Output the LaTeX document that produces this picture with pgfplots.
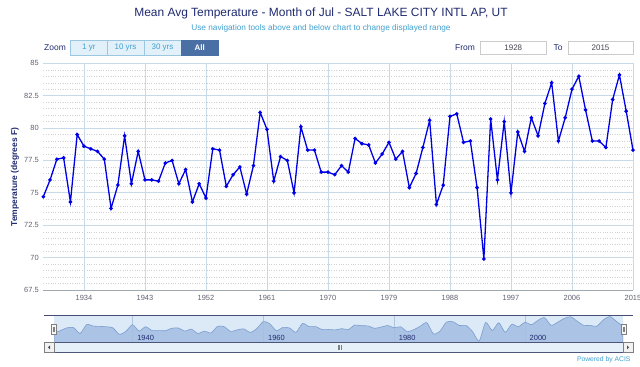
\documentclass[border=0pt]{standalone}
\usepackage{pgfplots}
\pgfplotsset{compat=1.18}
\usepackage{pgfplotstable}
\usepackage{fontspec}
\setmainfont{Liberation Sans}

\definecolor{titlec}{HTML}{1F2A70}
\definecolor{subc}{HTML}{3FA0D0}
\definecolor{gridc}{HTML}{C8DAE8}
\definecolor{minorc}{HTML}{D2D2D2}
\definecolor{axisc}{HTML}{A0A8B0}
\definecolor{tickc}{HTML}{606070}
\definecolor{linec}{HTML}{0000E6}
\definecolor{navbg}{HTML}{DCE9F7}
\definecolor{navfill}{HTML}{A6BFE2}
\definecolor{navline}{HTML}{7B9FD0}
\definecolor{navgrid}{HTML}{B0C4E0}
\definecolor{btnfill}{HTML}{E2F0F9}
\definecolor{btnline}{HTML}{9CC7E0}
\definecolor{btnsel}{HTML}{4A6FA5}
\definecolor{boxline}{HTML}{CCCCCC}

\pgfplotstableread{
year t
1928 74.7
1929 76.0
1930 77.6
1931 77.7
1932 74.3
1933 79.5
1934 78.6
1935 78.4
1936 78.2
1937 77.6
1938 73.8
1939 75.6
1940 79.4
1941 75.7
1942 78.2
1943 76.0
1944 76.0
1945 75.9
1946 77.3
1947 77.5
1948 75.7
1949 76.8
1950 74.3
1951 75.7
1952 74.6
1953 78.4
1954 78.3
1955 75.5
1956 76.4
1957 77.0
1958 74.9
1959 77.1
1960 81.2
1961 79.9
1962 75.9
1963 77.8
1964 77.5
1965 75.0
1966 80.1
1967 78.3
1968 78.3
1969 76.6
1970 76.6
1971 76.4
1972 77.1
1973 76.6
1974 79.2
1975 78.8
1976 78.7
1977 77.3
1978 78.0
1979 78.9
1980 77.6
1981 78.2
1982 75.4
1983 76.5
1984 78.5
1985 80.6
1986 74.1
1987 75.6
1988 80.9
1989 81.1
1990 78.9
1991 79.0
1992 75.4
1993 69.9
1994 80.7
1995 76.0
1996 80.5
1997 75.0
1998 79.7
1999 78.2
2000 80.8
2001 79.4
2002 81.9
2003 83.5
2004 79.0
2005 80.8
2006 83.0
2007 84.0
2008 81.4
2009 79.0
2010 79.0
2011 78.5
2012 82.2
2013 84.1
2014 81.3
2015 78.3
}\data

\begin{document}
\begin{tikzpicture}[x=1bp,y=1bp]
\useasboundingbox (0,0) rectangle (640,366);

% titles
\node[text=titlec, font=\fontsize{12}{14}\selectfont] at (321,353) {Mean Avg Temperature - Month of Jul - SALT LAKE CITY INTL AP, UT};
\node[text=subc, font=\fontsize{8.3}{10}\selectfont] at (321,337.5) {Use navigation tools above and below chart to change displayed range};

% range selector
\node[text=titlec, font=\fontsize{8.5}{10}\selectfont] at (55,318.5) {Zoom};
\draw[btnline, fill=btnfill, line width=0.6bp] (70.7,310.3) rectangle (107,326);
\draw[btnline, fill=btnfill, line width=0.6bp] (107,310.3) rectangle (144,326);
\draw[btnline, fill=btnfill, line width=0.6bp] (144,310.3) rectangle (181,326);
\fill[btnsel] (181,310.3) rectangle (218.7,326);
\node[text=subc, font=\fontsize{8}{10}\selectfont] at (88.8,318.2) {1 yr};
\node[text=subc, font=\fontsize{8}{10}\selectfont] at (125.5,318.2) {10 yrs};
\node[text=subc, font=\fontsize{8}{10}\selectfont] at (162.5,318.2) {30 yrs};
\node[text=white, font=\bfseries\fontsize{8}{10}\selectfont] at (199.8,318.2) {All};

\node[text=titlec, font=\fontsize{8.5}{10}\selectfont] at (465,318.5) {From};
\draw[boxline, line width=0.6bp] (480.7,312) rectangle (546,325);
\node[text=tickc!70!black, font=\fontsize{8}{10}\selectfont] at (513.3,318.5) {1928};
\node[text=titlec, font=\fontsize{8.5}{10}\selectfont] at (558,318.5) {To};
\draw[boxline, line width=0.6bp] (568,312) rectangle (633,325);
\node[text=tickc!70!black, font=\fontsize{8}{10}\selectfont] at (600.5,318.5) {2015};

% y label
\node[text=titlec, rotate=90, font=\bfseries\fontsize{8.5}{10}\selectfont] at (15,189) {Temperature (degrees F)};

% main axis
\begin{axis}[
  at={(43.3bp,76bp)}, anchor=south west,
  scale only axis, width=589.7bp, height=226.7bp,
  xmin=1928, xmax=2015, ymin=67.5, ymax=85,
  xtick={1934,1943,1952,1961,1970,1979,1988,1997,2006,2015},
  ytick={67.5,70,72.5,75,77.5,80,82.5,85},
  yticklabels={67.5,70,72.5,75,77.5,80,82.5,85},
  xticklabels={1934,1943,1952,1961,1970,1979,1988,1997,2006,2015},
  minor y tick num=4,
  xmajorgrids, ymajorgrids, yminorgrids,
  major grid style={color=gridc, line width=0.7bp},
  minor grid style={color=minorc, line width=0.35bp, dash pattern=on 0.6bp off 1.8bp},
  axis x line*=bottom, axis y line*=left,
  x axis line style={-, color=axisc, line width=0.7bp},
  y axis line style={draw=none},
  major tick length=0pt, minor tick length=0pt,
  tick style={draw=none},
  xticklabel style={font=\fontsize{7.5}{9}\selectfont, text=tickc, yshift=-2bp},
  yticklabel style={font=\fontsize{7.5}{9}\selectfont, text=tickc, xshift=-1bp},
  clip=false,
]
\addplot[color=linec, line width=1.3bp, mark=*, mark size=1.1bp, mark options={fill=linec}] table[x=year,y=t]{\data};
\end{axis}

% navigator
\draw[color=titlec!60!gray, line width=0.8bp] (44,50.3) -- (633,50.3);
\begin{axis}[
  at={(54bp,23.7bp)}, anchor=south west,
  scale only axis, width=569bp, height=26.6bp,
  xmin=1928, xmax=2015, ymin=69.2, ymax=84.6,
  axis background/.style={fill=navbg},
  axis line style={draw=none},
  xtick={1940,1960,1980,2000}, xticklabels={},
  ytick=\empty,
  xmajorgrids,
  major grid style={color=navgrid, line width=0.6bp},
  tick style={draw=none},
]
\addplot[smooth, tension=0.4, draw=navline, fill=navfill, fill opacity=0.9, line width=0.6bp] table[x=year,y=t]{\data} \closedcycle;
\node[anchor=base west, text=titlec, font=\fontsize{7.5}{9}\selectfont] at (axis cs:1940.2,70) {1940};
\node[anchor=base west, text=titlec, font=\fontsize{7.5}{9}\selectfont] at (axis cs:1960.2,70) {1960};
\node[anchor=base west, text=titlec, font=\fontsize{7.5}{9}\selectfont] at (axis cs:1980.2,70) {1980};
\node[anchor=base west, text=titlec, font=\fontsize{7.5}{9}\selectfont] at (axis cs:2000.2,70) {2000};
\end{axis}

% handles
\draw[gray, fill=white!94!gray, line width=0.5bp] (51,32) rectangle (56,42);
\draw[gray, line width=0.4bp] (52.8,34.5) -- (52.8,39.5) (54.2,34.5) -- (54.2,39.5);
\draw[gray, fill=white!94!gray, line width=0.5bp] (621,32) rectangle (626,42);
\draw[gray, line width=0.4bp] (622.8,34.5) -- (622.8,39.5) (624.2,34.5) -- (624.2,39.5);

% scrollbar
\draw[color=titlec!50!gray, fill=navbg!70!white, line width=0.6bp] (44,13.7) rectangle (633,23.7);
\draw[color=gray, fill=white!90!gray, line width=0.5bp] (44,13.7) rectangle (54,23.7);
\fill[black!70] (50,16.7) -- (50,20.7) -- (48,18.7) -- cycle;
\draw[color=gray, fill=white!90!gray, line width=0.5bp] (623,13.7) rectangle (633,23.7);
\fill[black!70] (627,16.7) -- (627,20.7) -- (629,18.7) -- cycle;
\draw[gray, line width=0.4bp] (338,16.2) -- (338,21.2) (339.5,16.2) -- (339.5,21.2) (341,16.2) -- (341,21.2);

% credit
\node[anchor=east, text=subc, font=\fontsize{6.8}{8}\selectfont] at (634,6.5) {Powered by ACIS};
\end{tikzpicture}
\end{document}
